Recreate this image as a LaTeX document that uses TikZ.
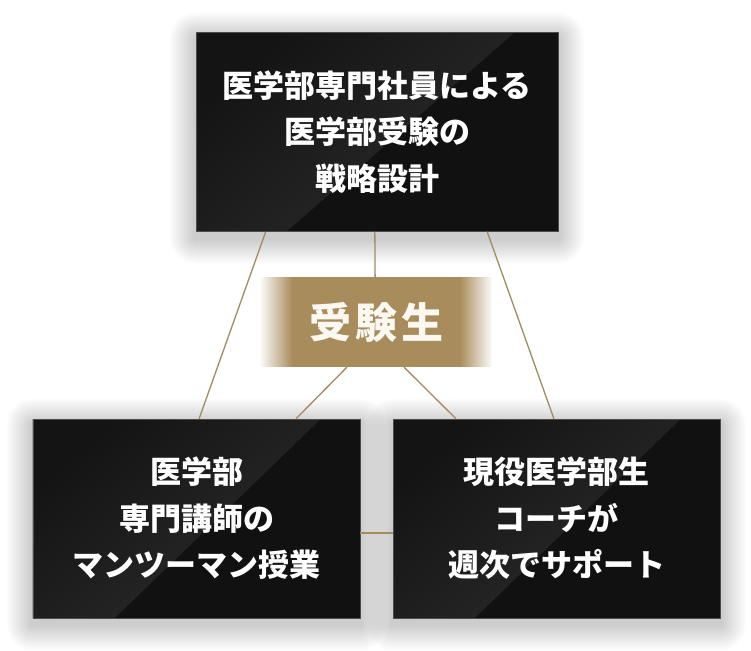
\documentclass[tikz,border=0pt]{standalone}
\usepackage{fontspec}
\newfontfamily\jp{Noto Sans CJK JP}
\usetikzlibrary{calc}
\definecolor{boxdark}{HTML}{111111}
\definecolor{glossA}{HTML}{141414}
\definecolor{glossB}{HTML}{2E2E2E}
\definecolor{gold}{HTML}{A98C5B}
\definecolor{goldline}{HTML}{A58A5E}
\definecolor{ivory}{HTML}{FBF8F2}
\pgfdeclarelayer{paper}
\pgfdeclarelayer{shadowlayer}
\pgfsetlayers{paper,shadowlayer,main}
\newcommand\mysoftshadow[1]{%
  \begin{pgfonlayer}{shadowlayer}
  \foreach \k in {2,...,26}{%
    \fill[black, opacity=0.0085, rounded corners=\k bp]
      ($(#1.north west)+(-\k,-\k+6)$) rectangle ($(#1.south east)+(\k,\k+6)$);
  }
  \end{pgfonlayer}}
\begin{document}
\begin{tikzpicture}[x=1bp,y=-1bp,
  darkbox/.style={rectangle, minimum height=199bp, inner sep=0pt,
    fill=boxdark, draw=black!70, line width=0.6bp, text=white, align=center,
    font=\jp\bfseries\fontsize{31bp}{46.5bp}\selectfont,
    path picture={
      \fill[top color=glossA, bottom color=glossB, shading angle=40]
        (path picture bounding box.north west)
        -- ($(path picture bounding box.north west)!0.88!(path picture bounding box.north east)$)
        -- ($(path picture bounding box.south west)!0.25!(path picture bounding box.south east)$)
        -- (path picture bounding box.south west) -- cycle;
    }},
  goldbox/.style={rectangle, minimum width=231bp, minimum height=90bp, inner sep=0pt,
    fill=gold, text=ivory,
    font=\jp\bfseries\fontsize{42bp}{50bp}\selectfont,
    path picture={
      \foreach \i in {0,...,31}{
        \pgfmathtruncatemacro\pct{6+3*\i}
        \fill[gold!\pct!white]
          ($(path picture bounding box.north west)+(\i,0)$) rectangle
          ($(path picture bounding box.south west)+(\i+1.2,0)$);
        \fill[gold!\pct!white]
          ($(path picture bounding box.north east)+(-\i,0)$) rectangle
          ($(path picture bounding box.south east)+(-\i-1.2,0)$);
      }
    }},
  link/.style={draw=goldline, line width=1.3bp}]
\begin{pgfonlayer}{paper}
\fill[white] (0,0) rectangle (751,651);
\end{pgfonlayer}
\useasboundingbox (0,0) rectangle (751,651);

\node[darkbox, minimum width=362bp] (top) at (377,132)
  {医学部専門社員による\\医学部受験の\\戦略設計};
\node[darkbox, minimum width=327bp] (bl) at (196.5,518.5)
  {医学部\\専門講師の\\マンツーマン授業};
\node[darkbox, minimum width=327bp] (br) at (556.5,518.5)
  {現役医学部生\\コーチが\\週次でサポート};
\node[goldbox] (stu) at (376.5,322) {受\hspace{4bp}験\hspace{4bp}生};

\mysoftshadow{top}
\mysoftshadow{bl}
\mysoftshadow{br}

\coordinate (t1) at ($(top.south west)!0.193!(top.south east)$);
\coordinate (t2) at ($(top.south west)!0.494!(top.south east)$);
\coordinate (t3) at ($(top.south west)!0.804!(top.south east)$);
\coordinate (g1) at ($(stu.north west)!0.494!(stu.north east)$);
\coordinate (g2) at ($(stu.south west)!0.372!(stu.south east)$);
\coordinate (g3) at ($(stu.south west)!0.619!(stu.south east)$);
\coordinate (l1) at ($(bl.north west)!0.508!(bl.north east)$);
\coordinate (l2) at ($(bl.north west)!0.804!(bl.north east)$);
\coordinate (l3) at ($(bl.north east)!0.573!(bl.south east)$);
\coordinate (r1) at ($(br.north west)!0.193!(br.north east)$);
\coordinate (r2) at ($(br.north west)!0.492!(br.north east)$);
\coordinate (r3) at ($(br.north west)!0.573!(br.south west)$);

\draw[link] (t1) -- (l1);
\draw[link] (t3) -- (r2);
\draw[link] (t2) -- (g1);
\draw[link] (g2) -- (l2);
\draw[link] (g3) -- (r1);
\draw[link] (l3) -- (r3);
\end{tikzpicture}
\end{document}
